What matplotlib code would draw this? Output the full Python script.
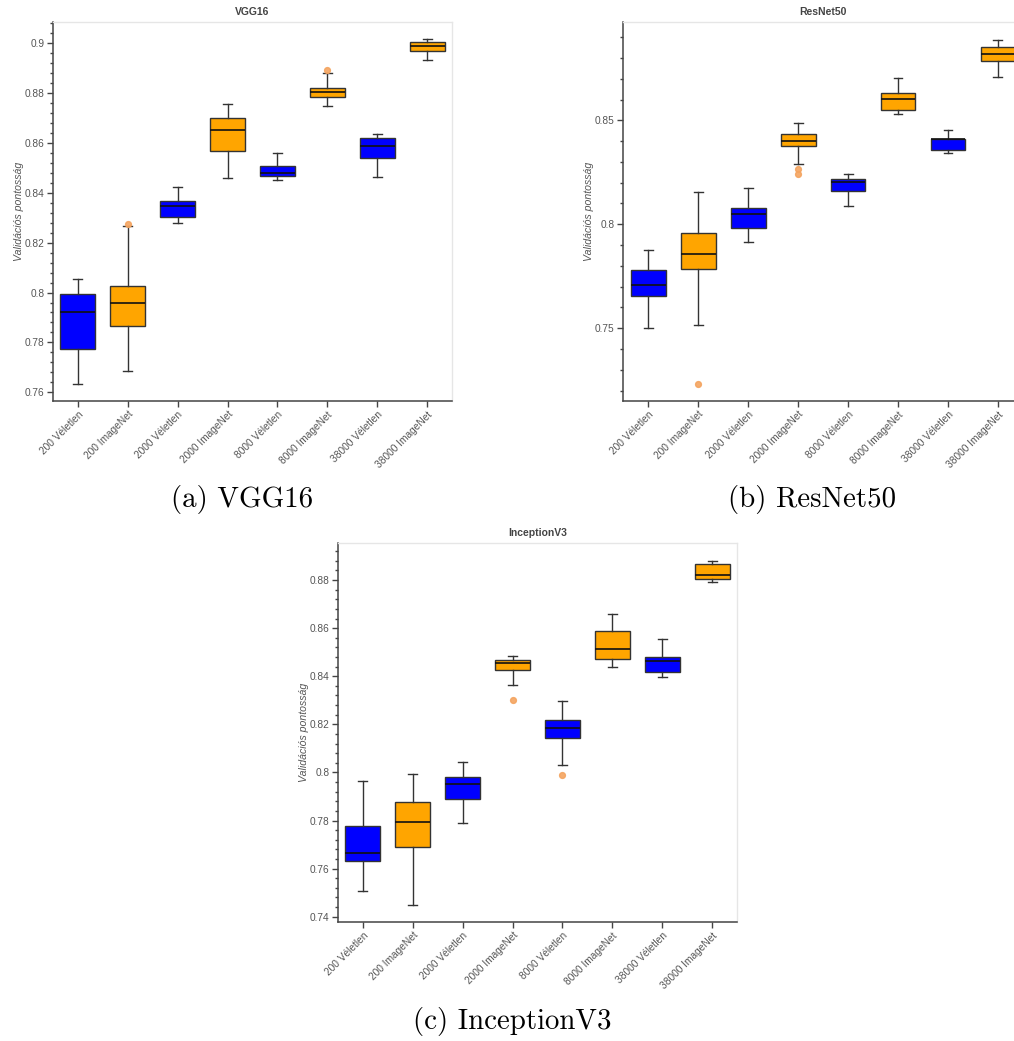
import matplotlib.pyplot as plt
from matplotlib.ticker import MultipleLocator, FuncFormatter

# -----------------------
# Box statistics per model
# (whisker low, q1, median, q3, whisker high)
# -----------------------
labels = ["200 Véletlen", "200 ImageNet", "2000 Véletlen", "2000 ImageNet",
          "8000 Véletlen", "8000 ImageNet", "38000 Véletlen", "38000 ImageNet"]

vgg_low = [0.7635, 0.7686, 0.8279, 0.8460, 0.8450, 0.8750, 0.8464, 0.8934]
vgg_q1 = [0.7772, 0.7867, 0.8301, 0.8569, 0.8466, 0.8783, 0.8541, 0.8967]
vgg_med = [0.7920, 0.7960, 0.8349, 0.8651, 0.8479, 0.8806, 0.8589, 0.8988]
vgg_q3 = [0.7994, 0.8027, 0.8366, 0.8698, 0.8509, 0.8822, 0.8618, 0.9003]
vgg_high = [0.8055, 0.8265, 0.8425, 0.8755, 0.8560, 0.8881, 0.8634, 0.9015]
vgg_out = [[], [0.8274], [], [], [], [0.8894], [], []]

res_low = [0.7503, 0.7516, 0.7913, 0.8290, 0.8088, 0.8532, 0.8343, 0.8708]
res_q1 = [0.7655, 0.7784, 0.7984, 0.8378, 0.8160, 0.8550, 0.8357, 0.8784]
res_med = [0.7708, 0.7857, 0.8050, 0.8399, 0.8204, 0.8603, 0.8409, 0.8817]
res_q3 = [0.7780, 0.7958, 0.8077, 0.8436, 0.8218, 0.8630, 0.8412, 0.8851]
res_high = [0.7878, 0.8157, 0.8176, 0.8487, 0.8244, 0.8702, 0.8452, 0.8888]
res_out = [[], [0.7234], [], [0.8268, 0.8244], [], [], [], []]

inc_low = [0.7505, 0.7450, 0.7790, 0.8363, 0.8032, 0.8440, 0.8395, 0.8790]
inc_q1 = [0.7630, 0.7690, 0.7888, 0.8426, 0.8142, 0.8473, 0.8419, 0.8806]
inc_med = [0.7666, 0.7794, 0.7950, 0.8453, 0.8183, 0.8512, 0.8462, 0.8819]
inc_q3 = [0.7777, 0.7878, 0.7981, 0.8467, 0.8216, 0.8589, 0.8478, 0.8865]
inc_high = [0.7964, 0.7995, 0.8045, 0.8485, 0.8295, 0.8660, 0.8555, 0.8880]
inc_out = [[], [], [], [0.8300], [0.7989], [], [], []]

box_colors = ["#0000ff", "#ffa500"] * 4

W, H = 1014, 1041


def make_stats(low, q1, med, q3, high, out):
    return [dict(whislo=a, q1=b, med=c, q3=d, whishi=e, fliers=f, label=l)
            for a, b, c, d, e, f, l in zip(low, q1, med, q3, high, out, labels)]


def draw_panel(rect, title, stats, ylim, major, minor):
    left, top, right, bottom = rect
    ax = fig.add_axes([left / W, 1 - bottom / H, (right - left) / W, (bottom - top) / H])
    bp = ax.bxp(stats, positions=range(len(stats)), widths=0.7, patch_artist=True,
                showfliers=True,
                boxprops=dict(edgecolor="#333333", linewidth=1.0),
                medianprops=dict(color="#111111", linewidth=1.2),
                whiskerprops=dict(color="#333333", linewidth=1.0),
                capprops=dict(color="#333333", linewidth=1.0),
                capwidths=0.18,
                flierprops=dict(marker="o", markersize=4.2, markerfacecolor="#f4a460",
                                markeredgecolor="#f4a460", alpha=0.9))
    for patch, c in zip(bp["boxes"], box_colors):
        patch.set_facecolor(c)

    ax.set_xlim(-0.5, len(stats) - 0.5)
    ax.set_ylim(*ylim)
    ax.yaxis.set_major_locator(MultipleLocator(major))
    ax.yaxis.set_minor_locator(MultipleLocator(minor))
    ax.yaxis.set_major_formatter(FuncFormatter(lambda v, p: "%g" % round(v, 4)))
    ax.set_xticks(range(len(stats)))
    ax.set_xticklabels(labels, rotation=45, ha="right", va="top",
                       rotation_mode="anchor")

    for s in ["left", "bottom"]:
        ax.spines[s].set_color("#444444")
        ax.spines[s].set_linewidth(1.1)
    for s in ["top", "right"]:
        ax.spines[s].set_color("#e6e6e6")
        ax.spines[s].set_linewidth(1.0)

    ax.tick_params(axis="both", which="major", direction="out", length=4,
                   width=1, color="#444444", labelcolor="#555555", labelsize=7.3,
                   pad=2)
    ax.tick_params(axis="y", which="minor", direction="out", length=2,
                   width=1, color="#444444")
    ax.tick_params(axis="x", which="minor", length=0)

    ax.set_ylabel("Validációs pontosság", fontsize=7.6, style="italic",
                  color="#555555", labelpad=0.5)
    ax.set_title(title, fontsize=7.5, fontweight="bold", color="#444444", pad=5)
    return ax


plt.rcParams["font.family"] = ["Liberation Sans", "DejaVu Sans"]
fig = plt.figure(figsize=(W / 100, H / 100), dpi=100)

draw_panel((53, 22, 452, 401), "VGG16",
           make_stats(vgg_low, vgg_q1, vgg_med, vgg_q3, vgg_high, vgg_out),
           (0.7565, 0.9085), 0.02, 0.004)
draw_panel((623, 22, 1023, 401), "ResNet50",
           make_stats(res_low, res_q1, res_med, res_q3, res_high, res_out),
           (0.715, 0.8973), 0.05, 0.01)
draw_panel((338, 543, 737, 922), "InceptionV3",
           make_stats(inc_low, inc_q1, inc_med, inc_q3, inc_high, inc_out),
           (0.7378, 0.8954), 0.02, 0.004)

# sub-figure captions
cap_kw = dict(fontsize=20.8, family="cmr10", ha="center", va="center")
fig.text(242 / W, 1 - 499 / H, "(a) VGG16", **cap_kw)
fig.text(812 / W, 1 - 499 / H, "(b) ResNet50", **cap_kw)
fig.text(512 / W, 1 - 1021 / H, "(c) InceptionV3", **cap_kw)

fig.savefig("out.png", dpi=100)
